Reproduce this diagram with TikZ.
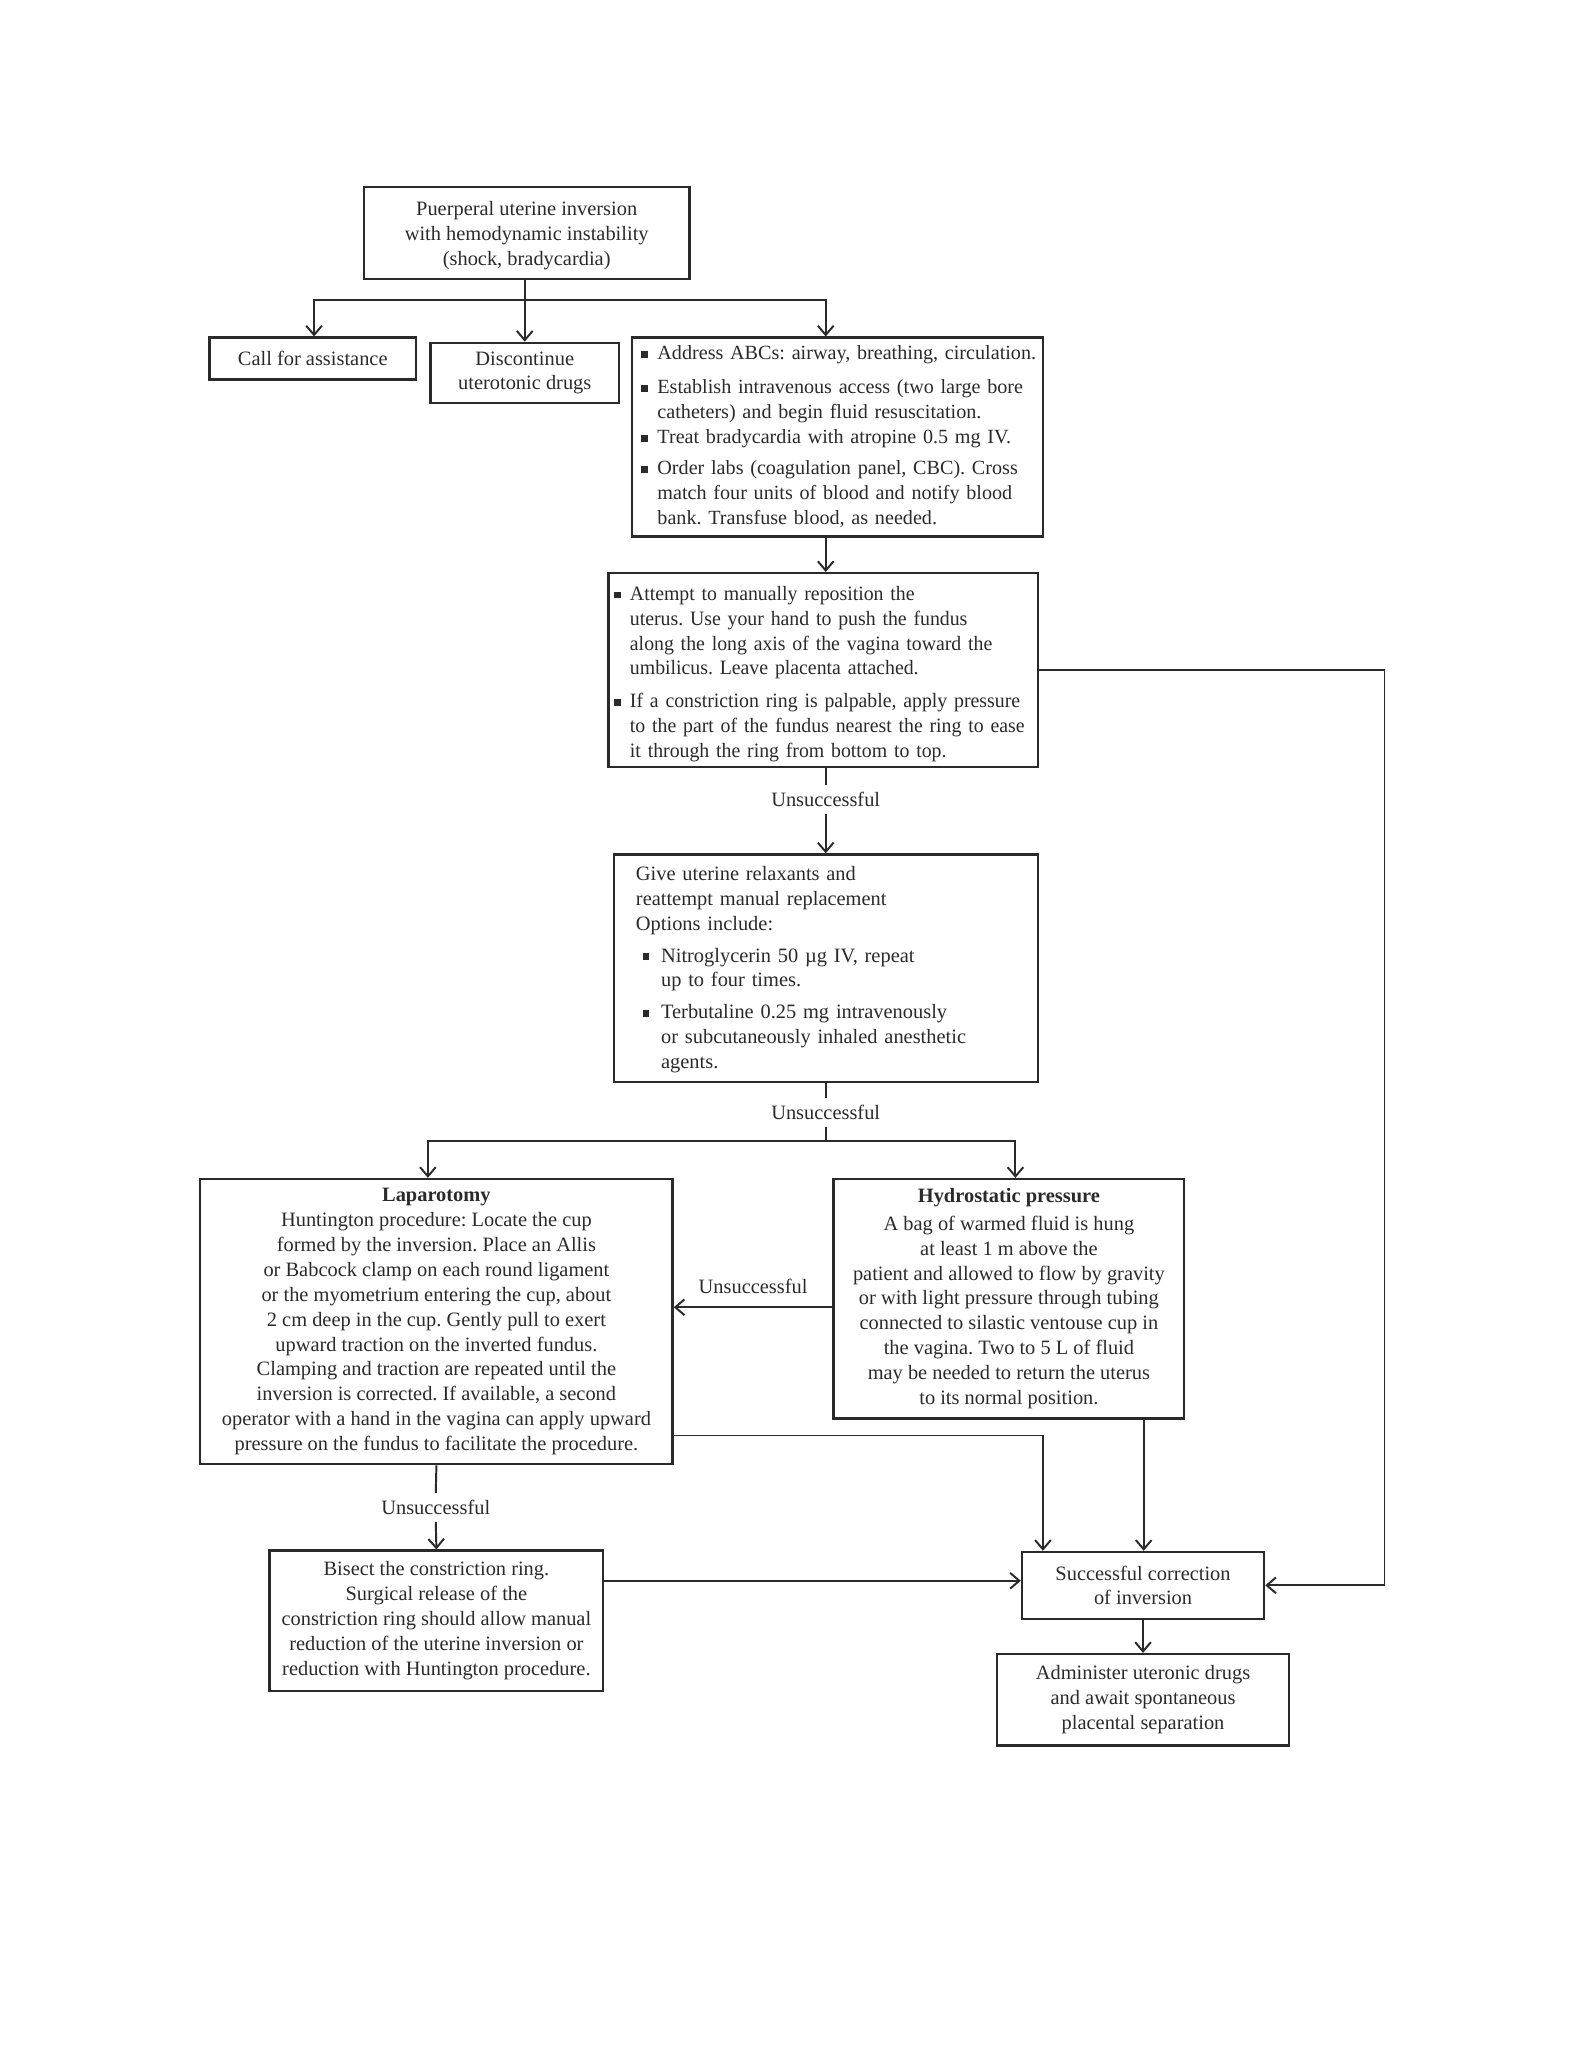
\documentclass[tikz,border=0pt]{standalone}
\usepackage{fontspec}
\setmainfont{Liberation Serif}
\newfontfamily\condfont[FakeStretch=0.97]{Liberation Serif}
\usetikzlibrary{arrows.meta}
\definecolor{ink}{HTML}{2A2A2A}
\newcommand{\fs}{\fontsize{7.8}{9.5}\selectfont\frenchspacing}
\newcommand{\fsb}{\fontsize{7.7}{9.5}\selectfont\frenchspacing}
\newcommand{\bsq}{\rule[0.7pt]{2.6pt}{2.6pt}}
\begin{document}
\begin{tikzpicture}[x=0.5pt,y=-0.5pt,
  box/.style={draw=ink, line width=0.9pt, inner sep=0pt, font=\fs, text=ink},
  lbl/.style={font=\fs, text=ink, inner sep=2.5pt},
  arr/.style={draw=ink, line width=0.75pt, -{Straight Barb[length=3.5pt,width=6pt]}},
  ln/.style={draw=ink, line width=0.75pt}]
\useasboundingbox (0,0) rectangle (1210.5,1566.6);

% helper coordinates
\coordinate (c631) at (631,0);
\coordinate (x797) at (797,0);
\coordinate (x874) at (874,0);
\coordinate (rr) at (1058,0);
\coordinate (y999) at (0,999);
\coordinate (y1097) at (0,1097);
\coordinate (y1208) at (0,1208);

\node[box, minimum width=124.5pt, minimum height=35pt, align=center] (top) at (402.5,178)
  {\rule{0pt}{7.4pt}Puerperal uterine inversion\\with hemodynamic instability\\(shock, bradycardia)};

\node[box, minimum width=79pt, minimum height=16pt, align=center] (call) at (239,274)
  {Call for assistance};

\node[box, minimum width=72pt, minimum height=23pt, align=center] (disc) at (401,285)
  {Discontinue\\uterotonic drugs};

\node[box, font=\fsb, minimum height=76pt, text width=150pt, inner xsep=3.5pt, align=left] (abc) at (640,334)
  {\begin{tabular}{@{}l@{\hspace{3.6pt}}l@{}}
   \bsq & Address ABCs: airway, breathing, circulation.\\[3.5pt]
   \bsq & Establish intravenous access (two large bore\\
        & catheters) and begin fluid resuscitation.\\
   \bsq & Treat bradycardia with atropine 0.5 mg IV.\\[2.5pt]
   \bsq & Order labs (coagulation panel, CBC). Cross\\
        & match four units of blood and notify blood\\
        & bank. Transfuse blood, as needed.
   \end{tabular}};

\node[box, font=\condfont\fs, minimum height=74pt, text width=160pt, inner xsep=2pt, align=left] (manual) at (629,512)
  {\begin{tabular}{@{}l@{\hspace{3.6pt}}l@{}}
   \bsq & \rule{0pt}{9.6pt}Attempt to manually reposition the\\
        & uterus. Use your hand to push the fundus\\
        & along the long axis of the vagina toward the\\
        & umbilicus. Leave placenta attached.\\[3pt]
   \bsq & If a constriction ring is palpable, apply pressure\\
        & to the part of the fundus nearest the ring to ease\\
        & it through the ring from bottom to top.
   \end{tabular}};

\node[box, minimum height=87pt, text width=145pt, inner xsep=8.5pt, align=left] (relax) at (631,740)
  {\begin{tabular}{@{}l@{}l@{}}
   \multicolumn{2}{@{}l@{}}{\rule{0pt}{7.6pt}Give uterine relaxants and}\\
   \multicolumn{2}{@{}l@{}}{reattempt manual replacement}\\
   \multicolumn{2}{@{}l@{}}{Options include:}\\[2.5pt]
   \hspace{2.5pt}\bsq\hspace{4.5pt} & Nitroglycerin 50 µg IV, repeat\\
        & up to four times.\\[2.5pt]
   \hspace{2.5pt}\bsq\hspace{4.5pt} & Terbutaline 0.25 mg intravenously\\
        & or subcutaneously inhaled anesthetic\\
        & agents.
   \end{tabular}};

\node[box, minimum width=180.5pt, minimum height=109pt, align=center] (lap) at (333.5,1010)
  {\textbf{Laparotomy}\\
   Huntington procedure: Locate the cup\\
   formed by the inversion. Place an Allis\\
   or Babcock clamp on each round ligament\\
   or the myometrium entering the cup, about\\
   2 cm deep in the cup. Gently pull to exert\\
   upward traction on the inverted fundus.\\
   Clamping and traction are repeated until the\\
   inversion is corrected. If available, a second\\
   operator with a hand in the vagina can apply upward\\
   pressure on the fundus to facilitate the procedure.};

\node[box, minimum width=134pt, minimum height=91.5pt, align=center] (hyd) at (771,992.5)
  {\textbf{Hydrostatic pressure}\\[1pt]
   A bag of warmed fluid is hung\\
   at least 1 m above the\\
   patient and allowed to flow by gravity\\
   or with light pressure through tubing\\
   connected to silastic ventouse cup in\\
   the vagina. Two to 5 L of fluid\\
   may be needed to return the uterus\\
   to its normal position.};

\node[box, minimum width=127.5pt, minimum height=53.5pt, align=center] (bis) at (333.5,1238.5)
  {Bisect the constriction ring.\\
   Surgical release of the\\
   constriction ring should allow manual\\
   reduction of the uterine inversion or\\
   reduction with Huntington procedure.};

\node[box, minimum width=92.5pt, minimum height=25.5pt, align=center] (succ) at (873.5,1211.5)
  {Successful correction\\of inversion};

\node[box, minimum width=111.5pt, minimum height=35pt, align=center] (adm) at (873.5,1299)
  {Administer uteronic drugs\\and await spontaneous\\placental separation};

% labels
\node[lbl] (u1) at (631,611) {Unsuccessful};
\node[lbl] (u2) at (631,850) {Unsuccessful};
\node[lbl] (u3) at (333,1152) {Unsuccessful};

% connectors
\coordinate (br) at (401,229);
\draw[ln] (top.south -| br) -- (br);
\draw[arr] (br) -| ([xshift=0.5pt]call.north);
\draw[arr] (br) -- (disc.north);
\draw[arr] (br) -| ([xshift=-4.5pt]abc.north);

\draw[arr] (abc.south -| c631) -- (manual.north -| c631);
\draw[ln] (manual.south -| c631) -- (u1.north);
\draw[arr] (u1.south) -- (relax.north -| c631);
\draw[arr] (manual.east) -- (manual.east -| rr) |- (succ.east);

\coordinate (br2) at (631,872);
\draw[ln] (relax.south -| c631) -- (u2.north);
\draw[ln] (u2.south) -- (br2);
\draw[arr] (br2) -| ([xshift=-3.25pt]lap.north);
\draw[arr] (br2) -| ([xshift=2.5pt]hyd.north);

\draw[arr] (hyd.west |- y999) -- node[lbl, above, yshift=2.5pt, pos=0.5] (u4) {Unsuccessful} (lap.east |- y999);
\draw[arr] (lap.east |- y1097) -| (succ.north -| x797);
\draw[arr] (hyd.south -| x874) -- (succ.north -| x874);

\draw[ln] (lap.south) -- (u3.north);
\draw[arr] (u3.south) -- (bis.north);
\draw[arr] (bis.east |- y1208) -- (succ.west |- y1208);
\draw[arr] (succ.south) -- (adm.north);
\end{tikzpicture}
\end{document}
